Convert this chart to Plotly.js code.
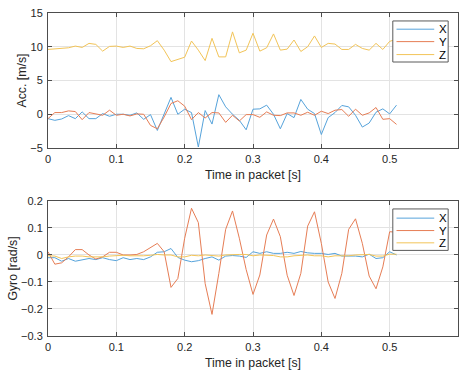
<!DOCTYPE html>
<html>
<head>
<meta charset="utf-8">
<script src="https://cdn.plot.ly/plotly-3.0.1.min.js"></script>
<style>html,body{margin:0;padding:0;background:#fff;}#chart{width:464px;height:374px;}</style>
</head>
<body>
<div id="chart"></div>
<script>
// time samples (s)
var time = [0,0.01,0.02,0.03,0.04,0.05,0.06,0.07,0.08,0.09,0.10,0.11,0.12,0.13,0.14,0.15,0.16,0.17,0.18,0.19,0.20,0.21,0.22,0.23,0.24,0.25,0.26,0.27,0.28,0.29,0.30,0.31,0.32,0.33,0.34,0.35,0.36,0.37,0.38,0.39,0.40,0.41,0.42,0.43,0.44,0.45,0.46,0.47,0.48,0.49,0.50,0.51];

// Accelerometer [m/s]
var accX = [-0.65,-0.9,-0.7,-0.2,-0.65,0.35,-0.65,-0.65,0.1,-0.3,0,0,-0.15,0.2,-0.75,-0.05,-2.4,0.1,2.5,0,0.75,0.25,-4.85,0.55,-1.45,2.9,1.1,0,-0.9,-2.3,0.75,0.8,1.35,0,-2.15,0.1,-0.5,2.2,0.75,0.1,-3.0,-0.5,0.25,1.3,1.1,-0.15,-1.9,-1.3,0.3,0.8,0.05,1.35];
var accY = [-0.65,0.25,0.25,0.5,0.4,-0.8,0.25,0.1,-0.15,0.6,-0.15,0,-0.25,0.05,0,-1.65,-2.15,-0.4,1.6,2.0,1.2,-0.8,0.25,-0.55,0.25,0.2,-1.2,-0.15,-1.0,-0.05,-0.05,-0.45,0.35,-0.15,-0.2,0.2,0.2,-0.15,0.3,-0.15,0.45,0.1,0.6,0.7,-0.3,0.75,-0.15,0.2,1.0,-0.75,-0.65,-1.5];
var accZ = [9.6,9.7,9.75,9.85,10.1,9.9,10.5,10.35,9.35,10.05,10.1,9.9,10.1,9.75,9.7,10.15,10.9,9.5,7.8,8.1,8.45,10.85,9.5,7.95,11.25,8.5,8.5,12.2,9.1,9.5,12.0,9.35,9.85,11.9,9.5,9.65,11.0,9.3,10.0,11.6,9.9,10.5,10.4,9.6,9.6,10.35,9.75,9.5,10.5,9.6,10.8,11.1];

// Gyroscope [rad/s]
var gyrX = [-0.01,-0.01,-0.023,-0.013,-0.023,-0.019,-0.013,-0.017,-0.01,-0.017,-0.021,-0.01,-0.017,-0.013,-0.017,-0.007,0.01,0.012,0.024,-0.009,-0.019,-0.025,-0.021,-0.013,-0.007,-0.019,-0.004,-0.002,-0.004,-0.009,0.012,0.006,0.012,0.006,0.006,0.01,0.006,0.013,0.008,0.006,0.006,0.002,0.006,-0.004,-0.003,-0.004,-0.007,0.003,-0.013,-0.01,0.012,0];
var gyrY = [0.012,-0.034,-0.029,-0.007,0.02,0.02,0,-0.015,-0.007,0.01,0.01,0,0,0.002,0.012,0.028,0.043,0.012,-0.12,-0.087,0.062,0.173,0.12,-0.106,-0.22,-0.068,0.095,0.163,0.062,-0.054,-0.146,-0.074,0.074,0.133,0.068,-0.075,-0.15,-0.068,0.107,0.16,0.043,-0.1,-0.161,-0.068,0.095,0.134,0.043,-0.078,-0.125,-0.044,0.086,0.085];
var gyrZ = [-0.003,-0.004,-0.013,-0.007,-0.004,-0.004,-0.007,-0.007,-0.007,-0.004,-0.003,-0.001,-0.003,-0.004,-0.003,-0.001,0.002,0,0,-0.007,-0.007,-0.001,-0.003,0,-0.003,-0.004,0,0.002,0.002,0.002,-0.003,0,-0.002,-0.002,-0.007,-0.007,-0.003,-0.002,0,-0.003,-0.003,-0.007,-0.003,-0.003,-0.003,0,0.002,0.002,-0.004,-0.004,0.003,0.003];

var seriesNames = ['X','Y','Z'];
var colors = ['#56a3db','#e67d55','#f2c458'];

var traces = [];
[accX, accY, accZ].forEach(function(v, i){
  traces.push({x: time, y: v, type: 'scatter', mode: 'lines', name: seriesNames[i],
    line: {color: colors[i], width: 1}, xaxis: 'x', yaxis: 'y', showlegend: false});
});
[gyrX, gyrY, gyrZ].forEach(function(v, i){
  traces.push({x: time, y: v, type: 'scatter', mode: 'lines', name: seriesNames[i],
    line: {color: colors[i], width: 1}, xaxis: 'x2', yaxis: 'y2', showlegend: false});
});

var fam = 'Liberation Sans, Arial, sans-serif';
var font = {family: fam, size: 11, color: '#262626'};
function xax(anchor){
  return {anchor: anchor, range: [0, 0.6], dtick: 0.1, tick0: 0, showline: true, mirror: 'ticks',
    linecolor: '#4d4d4d', linewidth: 1, ticks: 'inside', ticklen: 4, tickcolor: '#4d4d4d',
    showgrid: true, gridcolor: '#e3e3e3', zeroline: false, tickfont: font, ticklabelstandoff: 1,
    title: {text: 'Time in packet [s]', font: {family: fam, size: 12.3, color: '#262626'}, standoff: 6}};
}
function yax(anchor, domain, range, dtick, title){
  return {anchor: anchor, domain: domain, range: range, dtick: dtick, showline: true, mirror: 'ticks',
    linecolor: '#4d4d4d', linewidth: 1, ticks: 'inside', ticklen: 4, tickcolor: '#4d4d4d',
    showgrid: true, gridcolor: '#e3e3e3', zeroline: false, tickfont: font, ticklabelstandoff: 2,
    title: {text: title, font: {family: fam, size: 12.3, color: '#262626'}, standoff: 0}};
}

// custom compact legends (MATLAB style), positioned in axis-domain coordinates
var shapes = [], annotations = [];
function addLegend(xa, ya, rows){
  shapes.push({type: 'rect', xref: xa + ' domain', yref: ya + ' domain',
    x0: 0.841, x1: 0.976, y0: rows.bottom, y1: rows.top,
    line: {color: '#5a5a5a', width: 1}, fillcolor: '#ffffff', layer: 'above'});
  seriesNames.forEach(function(n, i){
    shapes.push({type: 'line', xref: xa + ' domain', yref: ya + ' domain',
      x0: 0.850, x1: 0.942, y0: rows.y[i], y1: rows.y[i],
      line: {color: colors[i], width: 1}, layer: 'above'});
    annotations.push({xref: xa + ' domain', yref: ya + ' domain', x: 0.948, y: rows.y[i],
      xanchor: 'left', yanchor: 'middle', text: n, showarrow: false,
      font: {family: fam, size: 11.5, color: '#000'}});
  });
}
addLegend('x', 'y', {top: 0.941, bottom: 0.637, y: [0.880, 0.788, 0.692]});
addLegend('x2', 'y2', {top: 0.941, bottom: 0.634, y: [0.873, 0.781, 0.690]});

var layout = {
  width: 464, height: 374,
  margin: {l: 48, r: 6, t: 13, b: 38},
  paper_bgcolor: '#fff', plot_bgcolor: '#fff',
  showlegend: false,
  xaxis: xax('y'),
  yaxis: yax('x', [0.582, 1], [-5, 15], 5, 'Acc. [m/s]'),
  xaxis2: xax('y2'),
  yaxis2: yax('x2', [0, 0.418], [-0.3, 0.2], 0.1, 'Gyro [rad/s]'),
  shapes: shapes,
  annotations: annotations,
  font: font
};

Plotly.newPlot('chart', traces, layout, {displayModeBar: false, staticPlot: true});
</script>
</body>
</html>
